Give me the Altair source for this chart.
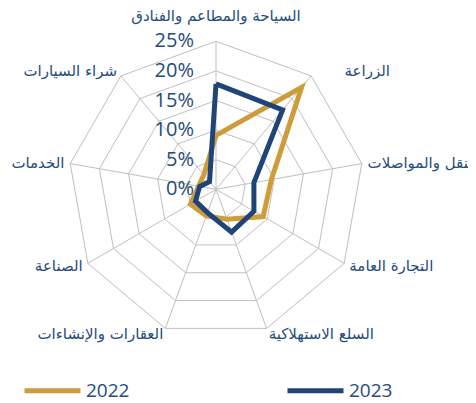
import math
import altair as alt
import pandas as pd

# ---------------- data ----------------
categories = [
    "السياحة والمطاعم والفنادق",
    "الزراعة",
    "النقل والمواصلات",
    "التجارة العامة",
    "السلع الاستهلاكية",
    "العقارات والإنشاءات",
    "الصناعة",
    "الخدمات",
    "شراء السيارات",
]
series_names = ["2022", "2023"]
values_2022 = [9.1, 22.5, 9.5, 9.2, 5.4, 4.8, 5.0, 3.0, 3.2]
values_2023 = [17.8, 17.5, 6.5, 7.4, 7.7, 4.2, 4.0, 2.8, 1.7]
ticks = [0, 5, 10, 15, 20, 25]
tick_labels = ["0%", "5%", "10%", "15%", "20%", "25%"]

# ---------------- layout ----------------
W, H = 460, 395
CX, CY = 208, 181.3          # centre of the radar in plot pixels
PX_PER_UNIT = 148 / 25.0
x_dom = [-CX / PX_PER_UNIT, (W - CX) / PX_PER_UNIT]
y_dom = [-(H - CY) / PX_PER_UNIT, CY / PX_PER_UNIT]

GOLD = "#CF9C3C"
BLUE = "#1F4478"
NAVY = "#264A7E"
GRID = "#BFBFBF"
N = len(categories)
STEP = 360.0 / N

xs = alt.Scale(domain=x_dom, nice=False, zero=False)
ys = alt.Scale(domain=y_dom, nice=False, zero=False)

# series table (closed polygons)
rows = []
for name, vals in zip(series_names, [values_2022, values_2023]):
    for i in range(N + 1):
        k = i % N
        rows.append({"series": name, "order": i, "idx": k, "value": vals[k]})
series_df = pd.DataFrame(rows)

# grid rings
ring_rows = []
for t in ticks[1:]:
    for i in range(N + 1):
        ring_rows.append({"ring": t, "order": i, "idx": i % N})
ring_df = pd.DataFrame(ring_rows)

cat_df = pd.DataFrame({"cat": categories, "idx": list(range(N))})
tick_df = pd.DataFrame({"tick": ticks, "label": tick_labels})

ang = f"datum.idx * {STEP} * PI / 180"

rings = alt.Chart(ring_df).transform_calculate(
    x=f"datum.ring * sin({ang})", y=f"datum.ring * cos({ang})"
).mark_line(color=GRID, strokeWidth=1).encode(
    x=alt.X("x:Q", scale=xs, axis=None),
    y=alt.Y("y:Q", scale=ys, axis=None),
    detail="ring:N",
    order="order:Q",
)

spokes = alt.Chart(cat_df).transform_calculate(
    x0="0", y0="0",
    x1=f"25 * sin({ang})", y1=f"25 * cos({ang})",
).mark_rule(color=GRID, strokeWidth=1).encode(
    x=alt.X("x0:Q", scale=xs, axis=None),
    y=alt.Y("y0:Q", scale=ys, axis=None),
    x2="x1:Q",
    y2="y1:Q",
)

tick_text = alt.Chart(tick_df).transform_calculate(x0="0").mark_text(
    align="right", baseline="middle", dx=-22, fontSize=20,
    font="Open Sans", color=NAVY,
).encode(
    x=alt.X("x0:Q", scale=xs, axis=None),
    y=alt.Y("tick:Q", scale=ys, axis=None),
    text="label:N",
)

lines = alt.Chart(series_df).transform_calculate(
    x=f"datum.value * sin({ang})", y=f"datum.value * cos({ang})"
).mark_line(strokeWidth=5, strokeJoin="miter", strokeCap="butt").encode(
    x=alt.X("x:Q", scale=xs, axis=None),
    y=alt.Y("y:Q", scale=ys, axis=None),
    order="order:Q",
    color=alt.Color(
        "series:N",
        scale=alt.Scale(domain=series_names, range=[GOLD, BLUE]),
        legend=alt.Legend(
            title=None, orient="none", direction="horizontal",
            legendX=14, legendY=352,
            symbolType="stroke", symbolSize=3136, symbolStrokeWidth=5,
            labelFontSize=19, labelFont="Open Sans", labelColor=NAVY,
            labelOffset=3, columnPadding=147,
        ),
    ),
)

# category labels
lab_base = alt.Chart(cat_df).transform_calculate(
    pad="datum.idx == 0 ? 3.0 : 1",
    shift="datum.idx == 1 ? 5 : 0",
).transform_calculate(
    lx=f"(25 + datum.pad) * sin({ang}) + datum.shift",
    ly=f"(25 + datum.pad) * cos({ang})",
    s=f"sin({ang})",
)
lab_enc = dict(
    x=alt.X("lx:Q", scale=xs, axis=None),
    y=alt.Y("ly:Q", scale=ys, axis=None),
    text="cat:N",
)
lab_kw = dict(fontSize=15, font="DejaVu Sans", color=NAVY)
lab_top = lab_base.transform_filter("abs(datum.s) < 0.01").mark_text(
    align="center", baseline="bottom", **lab_kw).encode(**lab_enc)
lab_right = lab_base.transform_filter("datum.s >= 0.01").mark_text(
    align="left", baseline="middle", **lab_kw).encode(**lab_enc)
lab_left = lab_base.transform_filter("datum.s <= -0.01").mark_text(
    align="right", baseline="middle", **lab_kw).encode(**lab_enc)

chart = alt.layer(
    rings, spokes, tick_text, lines, lab_top, lab_right, lab_left
).properties(
    width=W, height=H, padding=0, autosize=alt.AutoSizeParams(type="none")
).configure_view(stroke=None)

chart.save("out.html", embed_options={"renderer": "svg", "actions": False})
